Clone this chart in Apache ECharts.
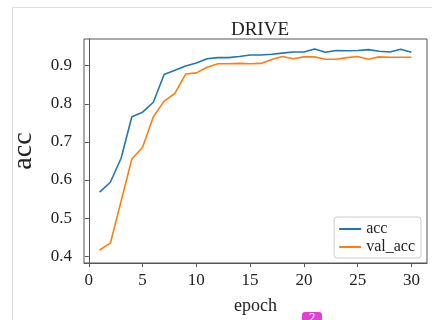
<!DOCTYPE html>
<html>
<head>
<meta charset="utf-8">
<script src="https://cdn.jsdelivr.net/npm/echarts@6/dist/echarts.min.js"></script>
<style>html,body{margin:0;padding:0;background:#fff;}#c{width:432px;height:320px;}</style>
</head>
<body>
<div id="c"></div>
<script>
var epochs = [1,2,3,4,5,6,7,8,9,10,11,12,13,14,15,16,17,18,19,20,21,22,23,24,25,26,27,28,29,30];
var acc = [0.568,0.594,0.657,0.766,0.778,0.804,0.877,0.888,0.899,0.907,0.918,0.921,0.921,0.924,0.928,0.928,0.930,0.933,0.936,0.936,0.944,0.935,0.940,0.939,0.940,0.942,0.938,0.936,0.943,0.935];
var valAcc = [0.416,0.434,0.544,0.655,0.686,0.766,0.807,0.827,0.878,0.881,0.896,0.905,0.905,0.906,0.905,0.906,0.916,0.924,0.918,0.923,0.923,0.917,0.917,0.921,0.924,0.917,0.923,0.922,0.922,0.922];
var xTicks = [0,5,10,15,20,25,30];
var yTicks = [0.4,0.5,0.6,0.7,0.8,0.9];
var seriesNames = ['acc','val_acc'];

function pairs(ys){ return epochs.map(function(e,i){ return [e, ys[i]]; }); }
var serif = '"Liberation Serif", "DejaVu Serif", serif';
var chart = echarts.init(document.getElementById('c'), null, {renderer:'canvas'});
chart.setOption({
  animation:false,
  backgroundColor:'#fff',
  title:{text:'DRIVE', left:255, top:16, textAlign:'center',
    textStyle:{fontFamily:serif, fontWeight:'normal', fontSize:19, color:'#222'}},
  grid:{left:84, right:5, top:39, bottom:55, show:true, borderColor:'#555', borderWidth:1, backgroundColor:'transparent'},
  legend:{orient:'vertical', right:11, bottom:62, data:seriesNames, icon:'rect', itemWidth:22, itemHeight:2,
    itemGap:2, padding:[4,6,3,5], borderColor:'#ccc', borderWidth:1, borderRadius:3,
    textStyle:{fontFamily:serif, fontSize:16, color:'#222'}},
  xAxis:{type:'value', min:-0.45, max:31.45, name:'epoch', nameLocation:'middle', nameGap:34,
    nameTextStyle:{fontFamily:serif, fontSize:18, color:'#222'},
    axisLine:{show:true, lineStyle:{color:'#555'}},
    axisTick:{show:true, length:4, customValues:xTicks, lineStyle:{color:'#555'}},
    axisLabel:{customValues:xTicks, margin:9, fontFamily:serif, fontSize:17, color:'#222'},
    splitLine:{show:false}},
  yAxis:{type:'value', min:0.382, max:0.970, name:'acc', nameLocation:'middle', nameGap:46, nameRotate:90,
    nameTextStyle:{fontFamily:serif, fontSize:28, color:'#222'},
    axisLine:{show:true, lineStyle:{color:'#555'}},
    axisTick:{show:true, length:4, customValues:yTicks, lineStyle:{color:'#555'}},
    axisLabel:{customValues:yTicks, margin:12, fontFamily:serif, fontSize:17, color:'#222',
      formatter:function(v){ return v.toFixed(1); }},
    splitLine:{show:false}},
  series:[
    {name:seriesNames[0], type:'line', data:pairs(acc), showSymbol:false, color:'#1f77b4', lineStyle:{width:1.6, color:'#1f77b4'}},
    {name:seriesNames[1], type:'line', data:pairs(valAcc), showSymbol:false, color:'#ff7f0e', lineStyle:{width:1.6, color:'#ff7f0e'}}
  ],
  graphic:[
    {type:'rect', shape:{x:12.5, y:7.5, width:440, height:340}, style:{fill:'none', stroke:'#ddd', lineWidth:1}, silent:true},
    {type:'rect', shape:{x:302, y:312, width:20, height:16, r:3}, style:{fill:'#e23fd3'}, silent:true},
    {type:'text', x:312, y:313, style:{text:'2', fill:'#fff', fontSize:12, fontFamily:'"Noto Sans", sans-serif', align:'center'}, silent:true}
  ]
});
</script>
</body>
</html>
